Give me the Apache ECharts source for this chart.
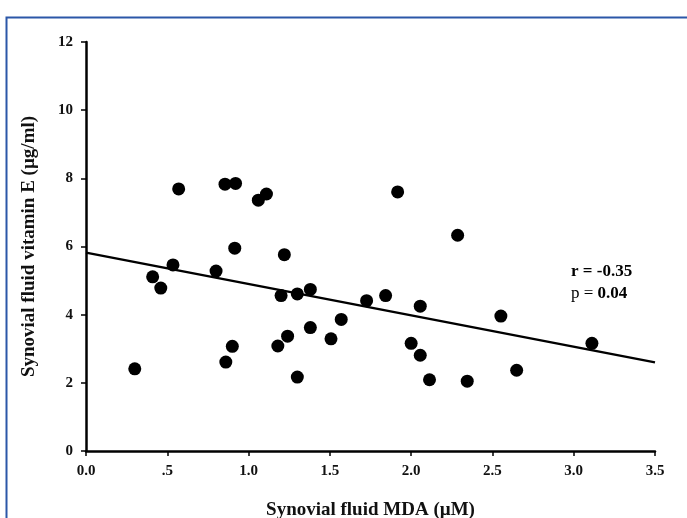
<!DOCTYPE html>
<html>
<head>
<meta charset="utf-8">
<script src="https://cdn.jsdelivr.net/npm/echarts@6/dist/echarts.min.js"></script>
<style>
  html, body { margin: 0; padding: 0; background: #fff; }
  #chart { width: 687px; height: 518px; }
</style>
</head>
<body>
<div id="chart"></div>
<script>
// Synovial fluid MDA (µM) vs vitamin E (µg/ml), one point per patient
const mdaValues = [0.30, 0.41, 0.46, 0.535, 0.57, 0.80, 0.86, 0.855, 0.92, 0.90,
  0.915, 1.06, 1.11, 1.22, 1.20, 1.30, 1.38, 1.38, 1.24, 1.18,
  1.30, 1.917, 2.286, 1.726, 1.843, 2.056, 2.552, 1.57, 1.507, 2.00,
  2.056, 3.112, 2.649, 2.113, 2.345];
const vitEValues = [2.41, 5.11, 4.78, 5.46, 7.69, 5.28, 2.61, 7.83, 7.85, 3.07,
  5.95, 7.36, 7.54, 5.76, 4.56, 4.61, 4.74, 3.62, 3.37, 3.08,
  2.17, 7.60, 6.33, 4.41, 4.56, 4.25, 3.96, 3.86, 3.29, 3.16,
  2.81, 3.16, 2.37, 2.09, 2.05];
// Fitted regression line end points (x, y)
const fitX = [0, 3.5];
const fitY = [5.82, 2.60];
const xTickLabels = ['0.0', '.5', '1.0', '1.5', '2.0', '2.5', '3.0', '3.5'];
const yTickLabels = ['0', '2', '4', '6', '8', '10', '12'];
const stats = { r: '-0.35', p: '0.04' };

const points = mdaValues.map((x, i) => [x, vitEValues[i]]);
const fitLine = fitX.map((x, i) => [x, fitY[i]]);
const serif = '"Liberation Serif", "Times New Roman", serif';

const chart = echarts.init(document.getElementById('chart'));
chart.setOption({
  animation: false,
  backgroundColor: '#ffffff',
  grid: { left: 86, right: 32, top: 42, bottom: 67, containLabel: false, outerBoundsMode: 'none' },
  xAxis: {
    type: 'value', min: 0, max: 3.5, interval: 0.5,
    name: 'Synovial fluid MDA (µM)', nameLocation: 'middle', nameGap: 50,
    nameTextStyle: { fontFamily: serif, fontWeight: 'bold', fontSize: 19, color: '#111' },
    axisLine: { show: true, lineStyle: { color: '#000', width: 2.5 } },
    axisTick: { show: true, length: 5, lineStyle: { color: '#000', width: 1.5 } },
    axisLabel: {
      fontFamily: serif, fontWeight: 'bold', fontSize: 15, color: '#111', margin: 13,
      formatter: v => xTickLabels[Math.round(v / 0.5)]
    },
    splitLine: { show: false }
  },
  yAxis: {
    type: 'value', min: 0, max: 12, interval: 2,
    name: 'Synovial fluid vitamin E (µg/ml)', nameLocation: 'middle', nameGap: 47,
    nameTextStyle: { fontFamily: serif, fontWeight: 'bold', fontSize: 19, color: '#111' },
    axisLine: { show: true, lineStyle: { color: '#000', width: 2.5 } },
    axisTick: { show: true, length: 5, lineStyle: { color: '#000', width: 1.5 } },
    axisLabel: {
      fontFamily: serif, fontWeight: 'bold', fontSize: 15, color: '#111', margin: 13,
      formatter: v => yTickLabels[Math.round(v / 2)]
    },
    splitLine: { show: false }
  },
  series: [
    {
      type: 'line', data: fitLine, symbol: 'none', silent: true,
      lineStyle: { color: '#000', width: 2.5 }, z: 2
    },
    {
      type: 'scatter', data: points, symbol: 'circle', symbolSize: 13,
      itemStyle: { color: '#000', opacity: 1 }, z: 3
    }
  ],
  graphic: [
    {
      type: 'rect', left: 4, top: 15, silent: true,
      shape: { width: 700, height: 520 },
      style: { fill: 'none', stroke: '#2b57a8', lineWidth: 2 }
    },
    {
      type: 'text', left: 571, top: 261, silent: true,
      style: {
        text: '{b|r = ' + stats.r + '}\n{n|p = }{b|' + stats.p + '}',
        lineHeight: 22,
        rich: {
          b: { fontFamily: serif, fontWeight: 'bold', fontSize: 17, color: '#111', lineHeight: 22 },
          n: { fontFamily: serif, fontWeight: 'normal', fontSize: 17, color: '#111', lineHeight: 22 }
        }
      }
    }
  ]
});
</script>
</body>
</html>
